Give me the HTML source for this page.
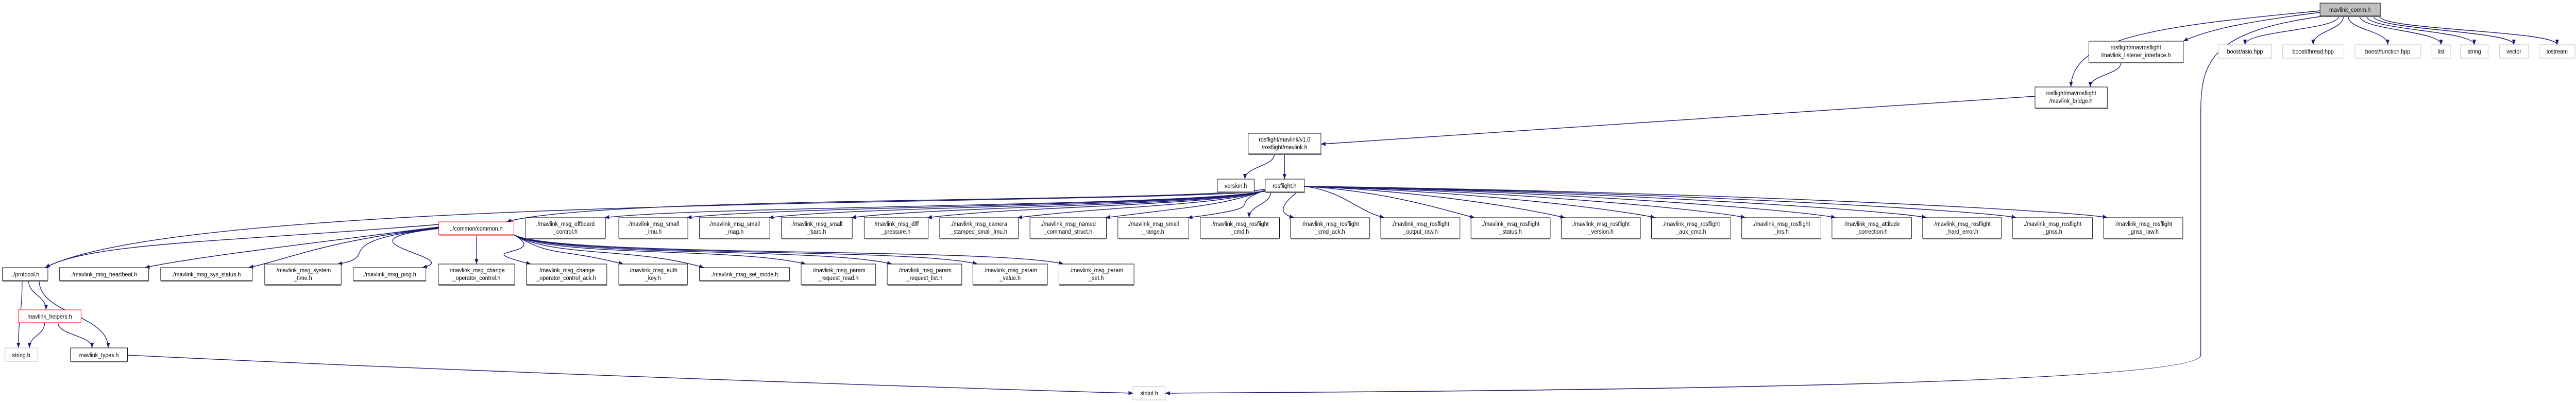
<!DOCTYPE html>
<html><head><meta charset="utf-8"><style>
html,body{margin:0;padding:0;background:#fff;width:100%;height:100%;overflow:hidden;}
svg{display:block;position:absolute;left:0;top:0;width:100vw;height:100vh;}
text{font-family:"Liberation Sans",sans-serif;font-size:12px;fill:#000;text-anchor:middle;}
.n{fill:#fff;stroke:#000;stroke-width:1;}
.g{fill:#fff;stroke:#bfbfbf;stroke-width:1;}
.r{fill:#fff;stroke:#ff0000;stroke-width:1;}
.sh{stroke:#666;stroke-width:2;}
.e{fill:none;stroke:#191970;stroke-width:1.4;}
</style></head><body>
<svg id="s" viewBox="0 0 5595 783" preserveAspectRatio="none" xmlns="http://www.w3.org/2000/svg">
<defs><marker id="a" markerUnits="userSpaceOnUse" markerWidth="11" markerHeight="8" refX="10" refY="4" orient="auto"><path d="M0,0 L10,4 L0,8 z" fill="#191970"/></marker></defs>
<g id="edges"></g>
<rect x="5039" y="6" width="131" height="25" fill="#bfbfbf" stroke="#000"/><line class="sh" x1="5040" y1="32" x2="5171" y2="32"/><text x="5104" y="23">mavlink_comm.h</text>
<rect class="n" x="4537" y="80" width="205" height="41"/><line class="sh" x1="4538" y1="122" x2="4743" y2="122"/><text x="4639" y="96">rosflight/mavrosflight</text><text x="4639" y="111">/mavlink_listener_interface.h</text>
<rect class="g" x="4818" y="87" width="116" height="26"/><text x="4876" y="104">boost/asio.hpp</text>
<rect class="g" x="4958" y="87" width="133" height="26"/><text x="5024" y="104">boost/thread.hpp</text>
<rect class="g" x="5115" y="87" width="143" height="26"/><text x="5186" y="104">boost/function.hpp</text>
<rect class="g" x="5282" y="87" width="40" height="26"/><text x="5302" y="104">list</text>
<rect class="g" x="5344" y="87" width="60" height="26"/><text x="5374" y="104">string</text>
<rect class="g" x="5429" y="87" width="63" height="26"/><text x="5460" y="104">vector</text>
<rect class="g" x="5515" y="87" width="78" height="26"/><text x="5554" y="104">iostream</text>
<rect class="n" x="4420" y="169" width="157" height="41"/><line class="sh" x1="4421" y1="211" x2="4578" y2="211"/><text x="4498" y="185">rosflight/mavrosflight</text><text x="4498" y="200">/mavlink_bridge.h</text>
<rect class="n" x="2711" y="259" width="158" height="40"/><line class="sh" x1="2712" y1="300" x2="2870" y2="300"/><text x="2790" y="275">rosflight/mavlink/v1.0</text><text x="2790" y="290">/rosflight/mavlink.h</text>
<rect class="n" x="2644" y="348" width="80" height="25"/><line class="sh" x1="2645" y1="374" x2="2725" y2="374"/><text x="2684" y="365">version.h</text>
<rect class="n" x="2748" y="348" width="85" height="25"/><line class="sh" x1="2749" y1="374" x2="2834" y2="374"/><text x="2790" y="365">rosflight.h</text>
<rect class="r" x="953" y="431" width="163" height="25"/><line x1="954" y1="457" x2="1117" y2="457" stroke="#ff8080" stroke-width="2"/><text x="1034" y="448">../common/common.h</text>
<g id="row1">
<rect class="n" x="1141" y="423" width="174" height="40"/><text x="1228" y="439">./mavlink_msg_offboard</text><text x="1228" y="454">_control.h</text>
<rect class="n" x="1344" y="423" width="150" height="40"/><text x="1419" y="439">./mavlink_msg_small</text><text x="1419" y="454">_imu.h</text>
<rect class="n" x="1519" y="423" width="153" height="40"/><text x="1595" y="439">./mavlink_msg_small</text><text x="1595" y="454">_mag.h</text>
<rect class="n" x="1697" y="423" width="154" height="40"/><text x="1774" y="439">./mavlink_msg_small</text><text x="1774" y="454">_baro.h</text>
<rect class="n" x="1877" y="423" width="139" height="40"/><text x="1946" y="439">./mavlink_msg_diff</text><text x="1946" y="454">_pressure.h</text>
<rect class="n" x="2041" y="423" width="171" height="40"/><text x="2126" y="439">./mavlink_msg_camera</text><text x="2126" y="454">_stamped_small_imu.h</text>
<rect class="n" x="2237" y="423" width="166" height="40"/><text x="2320" y="439">./mavlink_msg_named</text><text x="2320" y="454">_command_struct.h</text>
<rect class="n" x="2428" y="423" width="154" height="40"/><text x="2505" y="439">./mavlink_msg_small</text><text x="2505" y="454">_range.h</text>
<rect class="n" x="2607" y="423" width="172" height="40"/><text x="2693" y="439">./mavlink_msg_rosflight</text><text x="2693" y="454">_cmd.h</text>
<rect class="n" x="2803" y="423" width="172" height="40"/><text x="2889" y="439">./mavlink_msg_rosflight</text><text x="2889" y="454">_cmd_ack.h</text>
<rect class="n" x="2999" y="423" width="172" height="40"/><text x="3085" y="439">./mavlink_msg_rosflight</text><text x="3085" y="454">_output_raw.h</text>
<rect class="n" x="3195" y="423" width="172" height="40"/><text x="3281" y="439">./mavlink_msg_rosflight</text><text x="3281" y="454">_status.h</text>
<rect class="n" x="3391" y="423" width="172" height="40"/><text x="3477" y="439">./mavlink_msg_rosflight</text><text x="3477" y="454">_version.h</text>
<rect class="n" x="3587" y="423" width="172" height="40"/><text x="3673" y="439">./mavlink_msg_rosflight</text><text x="3673" y="454">_aux_cmd.h</text>
<rect class="n" x="3783" y="423" width="172" height="40"/><text x="3869" y="439">./mavlink_msg_rosflight</text><text x="3869" y="454">_ins.h</text>
<rect class="n" x="3979" y="423" width="173" height="40"/><text x="4065" y="439">./mavlink_msg_attitude</text><text x="4065" y="454">_correction.h</text>
<rect class="n" x="4176" y="423" width="171" height="40"/><text x="4261" y="439">./mavlink_msg_rosflight</text><text x="4261" y="454">_hard_error.h</text>
<rect class="n" x="4371" y="423" width="174" height="40"/><text x="4458" y="439">./mavlink_msg_rosflight</text><text x="4458" y="454">_gnss.h</text>
<rect class="n" x="4569" y="423" width="172" height="40"/><text x="4655" y="439">./mavlink_msg_rosflight</text><text x="4655" y="454">_gnss_raw.h</text>
</g>
<g id="row2">
<rect class="n" x="5" y="520" width="99" height="25"/><text x="54" y="537">../protocol.h</text>
<rect class="n" x="129" y="520" width="194" height="25"/><text x="226" y="537">./mavlink_msg_heartbeat.h</text>
<rect class="n" x="349" y="520" width="199" height="25"/><text x="448" y="537">./mavlink_msg_sys_status.h</text>
<rect class="n" x="575" y="513" width="166" height="40"/><text x="658" y="529">./mavlink_msg_system</text><text x="658" y="544">_time.h</text>
<rect class="n" x="767" y="520" width="158" height="25"/><text x="846" y="537">./mavlink_msg_ping.h</text>
<rect class="n" x="952" y="513" width="166" height="40"/><text x="1035" y="529">./mavlink_msg_change</text><text x="1035" y="544">_operator_control.h</text>
<rect class="n" x="1143" y="513" width="175" height="40"/><text x="1230" y="529">./mavlink_msg_change</text><text x="1230" y="544">_operator_control_ack.h</text>
<rect class="n" x="1344" y="513" width="149" height="40"/><text x="1418" y="529">./mavlink_msg_auth</text><text x="1418" y="544">_key.h</text>
<rect class="n" x="1519" y="520" width="196" height="25"/><text x="1617" y="537">./mavlink_msg_set_mode.h</text>
<rect class="n" x="1740" y="513" width="162" height="40"/><text x="1821" y="529">./mavlink_msg_param</text><text x="1821" y="544">_request_read.h</text>
<rect class="n" x="1927" y="513" width="162" height="40"/><text x="2008" y="529">./mavlink_msg_param</text><text x="2008" y="544">_request_list.h</text>
<rect class="n" x="2113" y="513" width="162" height="40"/><text x="2194" y="529">./mavlink_msg_param</text><text x="2194" y="544">_value.h</text>
<rect class="n" x="2300" y="513" width="163" height="40"/><text x="2381" y="529">./mavlink_msg_param</text><text x="2381" y="544">_set.h</text>
</g>
<rect class="r" x="40" y="602" width="136" height="25"/><text x="108" y="619">mavlink_helpers.h</text>
<rect class="g" x="11" y="676" width="71" height="26"/><text x="46" y="694">string.h</text>
<rect class="n" x="153" y="676" width="124" height="26"/><line class="sh" x1="154" y1="703" x2="278" y2="703"/><text x="215" y="694">mavlink_types.h</text>
<rect class="g" x="2461" y="751" width="70" height="26"/><text x="2496" y="768">stdint.h</text>
</svg>
<script>
(function(){
var g=document.getElementById('edges'),NS='http://www.w3.org/2000/svg';
function P(d){var p=document.createElementNS(NS,'path');p.setAttribute('d',d);p.setAttribute('class','e');p.setAttribute('marker-end','url(#a)');g.appendChild(p);}
function C(sx,sy,tx,ty){P('M'+sx+','+sy+' C'+sx+','+(sy+(ty-sy)*0.5)+' '+tx+','+(ty-(ty-sy)*0.5)+' '+tx+','+ty);}
['row1','row2'].forEach(function(id){var rs=document.getElementById(id).getElementsByTagName('rect');var arr=[];for(var i=0;i<rs.length;i++)arr.push(rs[i]);arr.forEach(function(r){var x=+r.getAttribute('x'),y=+r.getAttribute('y'),w=+r.getAttribute('width'),h=+r.getAttribute('height');var l=document.createElementNS(NS,'line');l.setAttribute('class','sh');l.setAttribute('x1',x+1);l.setAttribute('x2',x+w);l.setAttribute('y1',y+h+1);l.setAttribute('y2',y+h+1);r.parentNode.appendChild(l);});});
P('M5039,24 C4900,40 4800,55 4742,80');
P('M5039,21 C4700,50 4500,70 4498,169');
var bt=[4876,5024,5186,5302,5374,5460,5554];
var sxs=[5080,5090,5100,5125,5140,5155,5168];
for(var i=0;i<bt.length;i++)C(sxs[i],31,bt[i],87);
P('M5050,31 C4800,60 4780,120 4780,220 L4780,690 C4780,760 2700,762 2531,764');
C(4607,121,4540,169);
P('M4420,187 L2869,280');
C(2768,299,2704,348);
C(2790,299,2790,348);
var r1=document.getElementById('row1').getElementsByTagName('rect');
for(var i=0;i<r1.length;i++){var x=+r1[i].getAttribute('x'),w=+r1[i].getAttribute('width');
 if(x+w<2748){var tx=x+w-2;P('M2748,370 C2650,400 '+(tx+200)+',400 '+tx+',423');}
 else if(x<2760){C(2760,373,x+w/2+20,423);}
 else {var tx=x+8;P('M2833,362 C'+(2833+(tx-2833)*0.5)+',372 '+(tx-60)+',410 '+tx+',423');}}
P('M2748,368 C2500,395 1300,380 1100,431');
P('M2748,372 C2300,400 400,380 98,520');
var r2=document.getElementById('row2').getElementsByTagName('rect');
for(var i=1;i<r2.length;i++){var x=+r2[i].getAttribute('x'),w=+r2[i].getAttribute('width'),y=+r2[i].getAttribute('y');
 if(x+w<953){var tx=x+w-8;P('M953,'+(440+i)+' C700,470 '+(tx+100)+',500 '+tx+','+y);}
 else if(x<1120){C(1035,456,x+w/2,y);}
 else {var tx=x+10;P('M1116,456 C1200,500 '+(tx-150)+',480 '+tx+','+y);}}
P('M953,436 C500,470 200,470 98,520');
C(48,545,40,676);C(62,545,100,602);C(85,545,235,676);C(97,627,64,676);C(126,627,200,676);
P('M277,690 C1200,730 2300,760 2461,764');
})();
</script>
</body></html>
